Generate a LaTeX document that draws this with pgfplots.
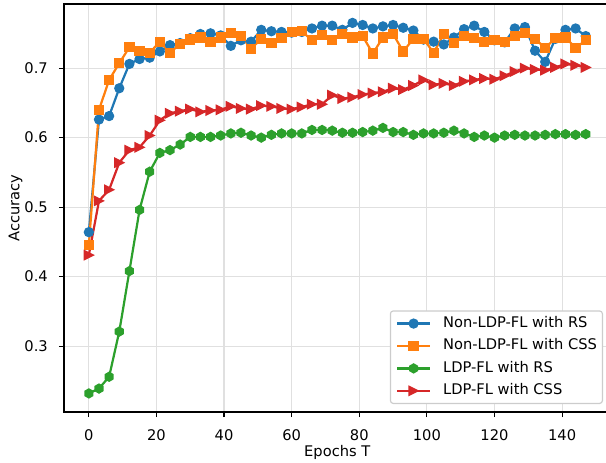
\documentclass[border=0pt]{standalone}
\usepackage{fontspec}
\setmainfont{DejaVu Sans}
\usepackage{pgfplots}
\usepackage{pgfplotstable}
\pgfplotsset{compat=1.18}

\definecolor{c0}{HTML}{1F77B4}
\definecolor{c1}{HTML}{FF7F0E}
\definecolor{c2}{HTML}{2CA02C}
\definecolor{c3}{HTML}{D62728}
\definecolor{legframe}{HTML}{CCCCCC}
\newcommand\ff{\fontsize{10.6}{12.7}\selectfont}

% matplotlib-like markers: hexagon 'h' and triangle '>'
\pgfdeclareplotmark{hexa}{%
  \pgfpathmoveto{\pgfpointpolar{90}{\pgfplotmarksize}}%
  \pgfpathlineto{\pgfpointpolar{150}{\pgfplotmarksize}}%
  \pgfpathlineto{\pgfpointpolar{210}{\pgfplotmarksize}}%
  \pgfpathlineto{\pgfpointpolar{270}{\pgfplotmarksize}}%
  \pgfpathlineto{\pgfpointpolar{330}{\pgfplotmarksize}}%
  \pgfpathlineto{\pgfpointpolar{30}{\pgfplotmarksize}}%
  \pgfpathclose\pgfusepathqfillstroke}
\pgfdeclareplotmark{triright}{%
  \pgfpathmoveto{\pgfqpoint{\pgfplotmarksize}{0pt}}%
  \pgfpathlineto{\pgfqpoint{-\pgfplotmarksize}{\pgfplotmarksize}}%
  \pgfpathlineto{\pgfqpoint{-\pgfplotmarksize}{-\pgfplotmarksize}}%
  \pgfpathclose\pgfusepathqfillstroke}

% epoch, Non-LDP-FL RS, Non-LDP-FL CSS, LDP-FL RS, LDP-FL CSS
\pgfplotstableread{
x    rs     css    lrs    lcss
0    0.464  0.445  0.232  0.431
3    0.626  0.640  0.239  0.509
6    0.631  0.683  0.256  0.525
9    0.671  0.707  0.321  0.564
12   0.706  0.730  0.408  0.582
15   0.713  0.725  0.496  0.586
18   0.715  0.722  0.551  0.603
21   0.724  0.738  0.578  0.625
24   0.733  0.722  0.582  0.635
27   0.736  0.735  0.590  0.638
30   0.743  0.741  0.601  0.641
33   0.749  0.744  0.601  0.637
36   0.750  0.738  0.601  0.639
39   0.747  0.744  0.603  0.640
42   0.732  0.750  0.606  0.645
45   0.740  0.746  0.607  0.642
48   0.738  0.728  0.603  0.641
51   0.755  0.742  0.600  0.646
54   0.753  0.736  0.604  0.645
57   0.752  0.743  0.606  0.642
60   0.751  0.752  0.606  0.641
63   0.752  0.753  0.606  0.644
66   0.757  0.740  0.611  0.648
69   0.761  0.748  0.611  0.648
72   0.761  0.740  0.610  0.661
75   0.755  0.749  0.607  0.656
78   0.765  0.744  0.607  0.658
81   0.762  0.746  0.608  0.662
84   0.757  0.721  0.610  0.664
87   0.760  0.744  0.614  0.666
90   0.762  0.749  0.608  0.671
93   0.758  0.724  0.608  0.669
96   0.754  0.742  0.604  0.675
99   0.741  0.742  0.606  0.683
102  0.738  0.722  0.606  0.676
105  0.734  0.749  0.607  0.678
108  0.744  0.736  0.610  0.675
111  0.756  0.746  0.606  0.681
114  0.761  0.743  0.601  0.683
117  0.752  0.738  0.603  0.685
120  0.740  0.740  0.600  0.684
123  0.737  0.738  0.603  0.689
126  0.757  0.746  0.604  0.695
129  0.759  0.750  0.603  0.700
132  0.725  0.742  0.603  0.698
135  0.709  0.729  0.604  0.697
138  0.742  0.743  0.605  0.701
141  0.755  0.744  0.605  0.706
144  0.757  0.729  0.604  0.704
147  0.746  0.740  0.605  0.701
}\acc

\begin{document}
\begin{tikzpicture}
\begin{axis}[
    name=ax,
    scale only axis,
    width=5.466in, height=4.08in,
    xmin=-7.35, xmax=154.35,
    ymin=0.2053, ymax=0.7922,
    xtick={0,20,...,140},
    ytick={0.3,0.4,0.5,0.6,0.7},
    /pgf/number format/assume math mode=true,
    tick align=outside, tick pos=left,
    major tick length=3.7pt,
    tick style={black, line width=0.85pt},
    axis line style={line width=0.85pt},
    grid=major,
    grid style={line width=0.85pt, black!12},
    tick label style={font=\ff},
    label style={font=\ff},
    yticklabel style={anchor=east, inner sep=0pt, xshift=-7.8pt},
    xticklabel style={anchor=north, inner sep=0pt, yshift=-8.6pt},
    xlabel={Epochs T},
    ylabel={Accuracy},
    xlabel style={at={(axis description cs:0.5,-0.108)}, anchor=base, inner sep=0pt},
    ylabel style={at={(axis description cs:-0.1019,0.5)}, anchor=north, inner sep=0pt},
    legend cell align=left,
    legend image code/.code={\draw[mark repeat=2,mark phase=2]
        plot coordinates {(0cm,0cm) (0.42cm,0cm) (0.84cm,0cm)};},
    legend style={
        font=\ff,
        at={(axis description cs:0.9861,0.0196)}, anchor=south east,
        draw=legframe, line width=0.85pt, fill=white, rounded corners=2pt,
        inner xsep=4pt, inner ysep=4pt,
        row sep=6pt, column sep=8.6pt,
        nodes={inner sep=0pt, text height=7.8pt, text depth=2.4pt},
    },
    every axis plot/.append style={line width=1.6pt},
]
\addplot[c0, mark=*, mark size=3.2pt, mark options={solid, line width=1pt, fill=c0}]
    table[x=x, y=rs] {\acc};
\addlegendentry{Non-LDP-FL with RS}
\addplot[c1, mark=square*, mark size=3.2pt, mark options={solid, line width=1pt, fill=c1}]
    table[x=x, y=css] {\acc};
\addlegendentry{Non-LDP-FL with CSS}
\addplot[c2, mark=hexa, mark size=3.2pt, mark options={solid, line width=1pt, fill=c2}]
    table[x=x, y=lrs] {\acc};
\addlegendentry{LDP-FL with RS}
\addplot[c3, mark=triright, mark size=3.2pt, mark options={solid, line width=1pt, fill=c3}]
    table[x=x, y=lcss] {\acc};
\addlegendentry{LDP-FL with CSS}
\end{axis}
\pgfresetboundingbox
\path[use as bounding box] ([shift={(-0.64in,-0.51in)}]ax.south west)
    rectangle ([shift={(-0.046in,0.04in)}]ax.north east);
\end{tikzpicture}
\end{document}
